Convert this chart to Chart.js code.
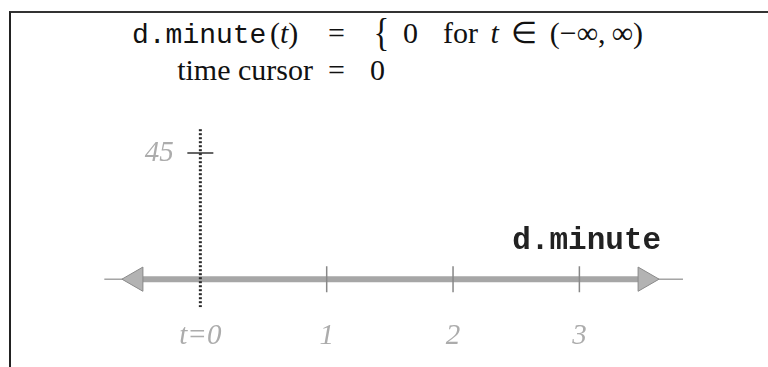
<!DOCTYPE html>
<html>
<head>
<meta charset="utf-8">
<script src="https://cdn.jsdelivr.net/npm/chart.js@4/dist/chart.umd.min.js"></script>
<style>
  body { margin: 0; background: #fff; }
  #wrap { position: relative; width: 768px; height: 367px; overflow: hidden; }
  #frame { position: absolute; left: 9px; top: 11px; right: -4px; bottom: -4px;
           border-top: 2px solid #333; border-left: 2px solid #222; }
  .line { position: absolute; white-space: nowrap; color: #111;
          font-family: "Liberation Serif", serif; font-size: 30px; line-height: 1; }
  .line span { display: inline-block; }
  .mono { font-family: "Liberation Mono", monospace; font-size: 28px; }
  .brace { transform: scale(1.1, 1.3); }
  canvas { position: absolute; left: 0; top: 0; }
</style>
</head>
<body>
<div id="wrap">
  <div id="frame"></div>
  <div class="line" style="left:132px; top:18px;">
    <span class="mono" style="width:138px">d.minute</span><span style="width:58px">(<i>t</i>)</span><span style="width:47px">=</span><span class="brace" style="width:28px">{</span><span style="width:40px">0</span><span style="word-spacing:5px">for <i>t</i> ∈ (−∞,&thinsp;∞)</span>
  </div>
  <div class="line" style="left:0; top:55px;">
    <span style="width:313px; text-align:right">time cursor</span><span style="width:15px"></span><span style="width:42px">=</span><span>0</span>
  </div>
  <canvas id="chart" width="768" height="367"></canvas>
</div>
<script>
// tick positions and labels
const tTicks = [0, 1, 2, 3];
const tTickLabels = ['t=0', '1', '2', '3'];
const yTicks = [45];
const yTickLabels = ['45'];

// d.minute(t) = 0 everywhere, drawn between the two arrowheads
const minuteT = [-0.51, 0, 1, 2, 3, 3.52];
const minuteValues = [0, 0, 0, 0, 0, 0];

// thin axis line running past the arrowheads
const axisT = [-0.76, 3.82];
const axisValues = [0, 0];

// time cursor
const cursorT = 0;
const cursorSpan = [-10, 54];

const tickFont = { family: '"Liberation Serif", serif', style: 'italic', size: 29 };
const gray = '#acacac';

const seriesLabel = {
    id: 'seriesLabel',
    afterDatasetsDraw(chart) {
        const { ctx, scales: { x, y } } = chart;
        ctx.save();
        ctx.font = 'bold 31px "Liberation Mono", monospace';
        ctx.fillStyle = '#222';
        ctx.textAlign = 'right';
        ctx.textBaseline = 'alphabetic';
        ctx.fillText('d.minute', x.getPixelForValue(minuteT[minuteT.length - 1]) + 16, y.getPixelForValue(0) - 30);
        ctx.restore();
    }
};

const arrowRadius = minuteT.map((t, i) => (i === 0 || i === minuteT.length - 1) ? 14 : 0);
const arrowRotation = minuteT.map((t, i) => i === 0 ? -90 : 90);

const data = {
    datasets: [
        {
            label: 'time cursor',
            data: cursorSpan.map(v => ({ x: cursorT, y: v })),
            showLine: true,
            borderColor: '#2a2a2a',
            borderWidth: 3,
            borderDash: [2, 2],
            pointRadius: 0
        },
        {
            label: 'y ticks',
            data: yTicks.map(v => ({ x: cursorT, y: v })),
            pointStyle: 'line',
            pointRadius: 13,
            pointBorderColor: '#333',
            pointBorderWidth: 1.5
        },
        {
            label: 't ticks',
            data: tTicks.slice(1).map(t => ({ x: t, y: 0 })),
            pointStyle: 'line',
            pointRotation: 90,
            pointRadius: 13,
            pointBorderColor: '#888',
            pointBorderWidth: 1.5
        },
        {
            label: 'd.minute',
            data: minuteT.map((t, i) => ({ x: t, y: minuteValues[i] })),
            showLine: true,
            borderColor: '#a6a6a6',
            borderWidth: 6,
            pointStyle: 'triangle',
            pointRadius: arrowRadius,
            pointRotation: arrowRotation,
            pointBackgroundColor: '#b3b3b3',
            pointBorderColor: '#8a8a8a',
            pointBorderWidth: 1
        },
        {
            label: 'axis',
            data: axisT.map((t, i) => ({ x: t, y: axisValues[i] })),
            showLine: true,
            borderColor: '#777',
            borderWidth: 1,
            pointRadius: 0
        }
    ]
};

const config = {
    type: 'scatter',
    data: data,
    plugins: [seriesLabel],
    options: {
        responsive: false,
        animation: false,
        layout: { padding: { left: 74, right: 37, top: 111, bottom: 1 } },
        plugins: {
            legend: { display: false },
            tooltip: { enabled: false }
        },
        scales: {
            x: {
                type: 'linear',
                min: -1,
                max: 4.2,
                afterBuildTicks: s => { s.ticks = tTicks.map(v => ({ value: v })); },
                grid: { display: false, drawTicks: false },
                border: { display: false },
                ticks: {
                    padding: 12,
                    font: tickFont,
                    color: gray,
                    maxRotation: 0,
                    autoSkip: false,
                    callback: v => tTickLabels[tTicks.indexOf(v)]
                }
            },
            y: {
                // labels sit right-aligned at this x, a little left of the cursor
                position: { x: -0.21 },
                min: -10,
                max: 60,
                afterBuildTicks: s => { s.ticks = yTicks.map(v => ({ value: v })); },
                grid: { display: false, drawTicks: false },
                border: { display: false },
                ticks: {
                    font: tickFont,
                    color: gray,
                    callback: v => yTickLabels[yTicks.indexOf(v)]
                }
            }
        }
    }
};

new Chart(document.getElementById('chart').getContext('2d'), config);
</script>
</body>
</html>
